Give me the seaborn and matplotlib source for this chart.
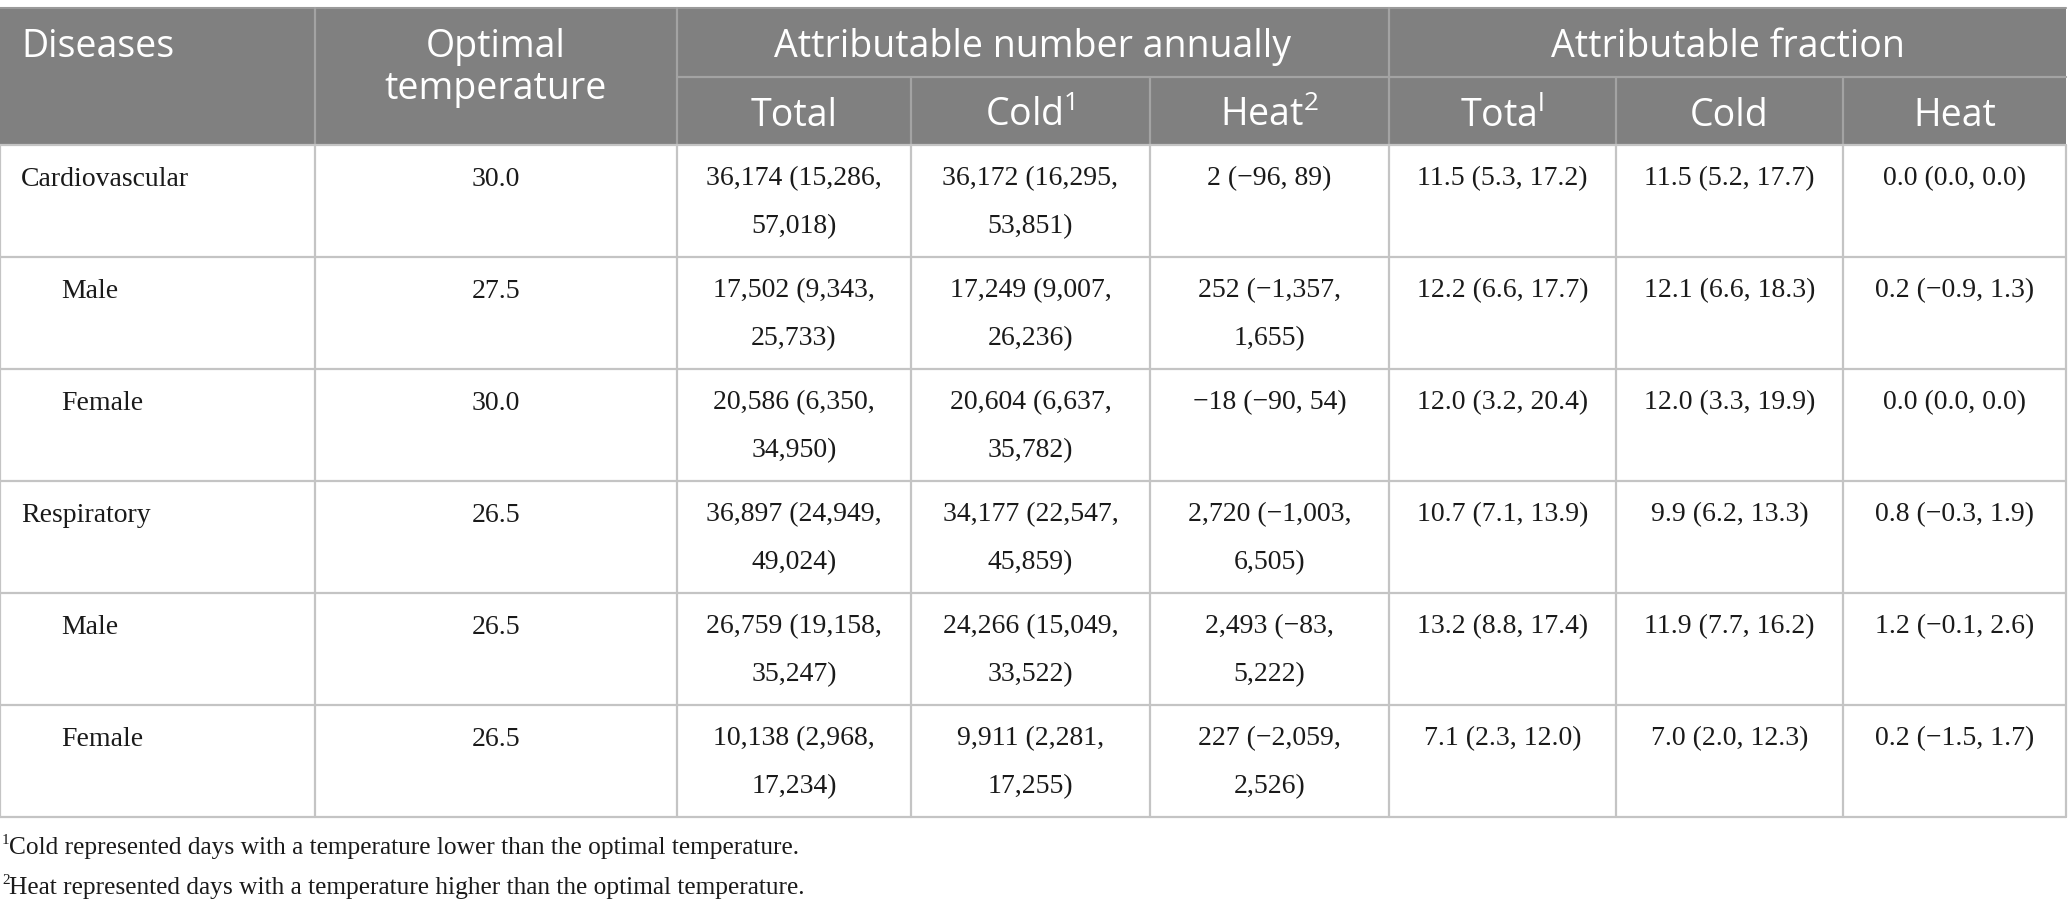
import matplotlib.pyplot as plt
import seaborn as sns

sns.set_style("white")
plt.rcParams["mathtext.fontset"] = "custom"
plt.rcParams["mathtext.rm"] = "Open Sans"

# ---- table content ----
diseases = ["Cardiovascular", "Male", "Female", "Respiratory", "Male", "Female"]
indent = [False, True, True, False, True, True]
optimal_temp = ["30.0", "27.5", "30.0", "26.5", "26.5", "26.5"]
num_total = ["36,174 (15,286,\n57,018)", "17,502 (9,343,\n25,733)", "20,586 (6,350,\n34,950)",
             "36,897 (24,949,\n49,024)", "26,759 (19,158,\n35,247)", "10,138 (2,968,\n17,234)"]
num_cold = ["36,172 (16,295,\n53,851)", "17,249 (9,007,\n26,236)", "20,604 (6,637,\n35,782)",
            "34,177 (22,547,\n45,859)", "24,266 (15,049,\n33,522)", "9,911 (2,281,\n17,255)"]
num_heat = ["2 (\u221296, 89)", "252 (\u22121,357,\n1,655)", "\u221218 (\u221290, 54)",
            "2,720 (\u22121,003,\n6,505)", "2,493 (\u221283,\n5,222)", "227 (\u22122,059,\n2,526)"]
frac_total = ["11.5 (5.3, 17.2)", "12.2 (6.6, 17.7)", "12.0 (3.2, 20.4)",
              "10.7 (7.1, 13.9)", "13.2 (8.8, 17.4)", "7.1 (2.3, 12.0)"]
frac_cold = ["11.5 (5.2, 17.7)", "12.1 (6.6, 18.3)", "12.0 (3.3, 19.9)",
             "9.9 (6.2, 13.3)", "11.9 (7.7, 16.2)", "7.0 (2.0, 12.3)"]
frac_heat = ["0.0 (0.0, 0.0)", "0.2 (\u22120.9, 1.3)", "0.0 (0.0, 0.0)",
             "0.8 (\u22120.3, 1.9)", "1.2 (\u22120.1, 2.6)", "0.2 (\u22121.5, 1.7)"]

group_headers = ["Attributable number annually", "Attributable fraction"]
sub_headers = ["Total", r"Cold$^\mathrm{1}$", r"Heat$^\mathrm{2}$", r"Tota$^\mathrm{l}$", "Cold", "Heat"]
footnotes = [("1", "Cold represented days with a temperature lower than the optimal temperature."),
             ("2", "Heat represented days with a temperature higher than the optimal temperature.")]

# ---- layout (pixels) ----
W, H = 2068, 910
col_x = [0, 315, 677, 911, 1150, 1389, 1616, 1843, 2066]
top, mid, hdr_bot = 8, 77, 145
row_h = 112
n_rows = len(diseases)
tbl_bot = hdr_bot + row_h * n_rows

HEAD_BG = "#808080"
HEAD_LINE = "#a3a3a3"
GRID = "#c4c4c4"
SANS = ["Open Sans", "DejaVu Sans"]
SERIF = ["Liberation Serif", "DejaVu Serif"]

fig = plt.figure(figsize=(W / 100, H / 100), dpi=100)
ax = fig.add_axes([0, 0, 1, 1])
ax.set_xlim(0, W)
ax.set_ylim(H, 0)
ax.axis("off")

# header background
ax.fill_between([0, col_x[-1]], top, hdr_bot, color=HEAD_BG, lw=0)
ax.plot([0, col_x[-1]], [top, top], color="#9a9a9a", lw=1.5)
# header inner lines
ax.plot([col_x[2], col_x[-1]], [mid, mid], color=HEAD_LINE, lw=1.6)
for i in [1, 2, 5]:
    ax.plot([col_x[i], col_x[i]], [top, hdr_bot], color=HEAD_LINE, lw=1.6)
for i in [3, 4, 6, 7]:
    ax.plot([col_x[i], col_x[i]], [mid, hdr_bot], color=HEAD_LINE, lw=1.6)

hkw = dict(color="white", fontsize=27, family=SANS, va="center")
ax.text(21, 47, "Diseases", ha="left", **hkw)
cx = (col_x[1] + col_x[2]) / 2
ax.text(cx, 47, "Optimal", ha="center", **hkw)
ax.text(cx, 89, "temperature", ha="center", **hkw)
ax.text((col_x[2] + col_x[5]) / 2, 47, group_headers[0], ha="center", **hkw)
ax.text((col_x[5] + col_x[8]) / 2, 47, group_headers[1], ha="center", **hkw)
for j, lab in enumerate(sub_headers):
    ax.text((col_x[j + 2] + col_x[j + 3]) / 2, 116, lab, ha="center", **hkw)

# body grid
for r in range(n_rows + 1):
    y = hdr_bot + r * row_h
    ax.plot([0, col_x[-1]], [y, y], color=GRID, lw=1.6)
for x in col_x:
    ax.plot([x, x], [hdr_bot, tbl_bot], color=GRID, lw=1.6)

columns = [optimal_temp, num_total, num_cold, num_heat, frac_total, frac_cold, frac_heat]
bkw = dict(color="#1a1a1a", fontsize=20, family=SERIF, va="center")
for r in range(n_rows):
    y0 = hdr_bot + r * row_h
    ax.text(61 if indent[r] else 21, y0 + 34, diseases[r], ha="left", **bkw)
    for c, col in enumerate(columns):
        xc = (col_x[c + 1] + col_x[c + 2]) / 2
        for k, line in enumerate(col[r].split("\n")):
            ax.text(xc, y0 + 34 + k * 48, line, ha="center", **bkw)

# footnotes
for k, (mark, txt) in enumerate(footnotes):
    y = 848 + k * 40
    ax.text(2, y - 7, mark, ha="left", color="#1a1a1a", fontsize=11, family=SERIF, va="center")
    ax.text(9, y, txt, ha="left", color="#1a1a1a", fontsize=18.3, family=SERIF, va="center")

fig.savefig("out.png", dpi=100)
